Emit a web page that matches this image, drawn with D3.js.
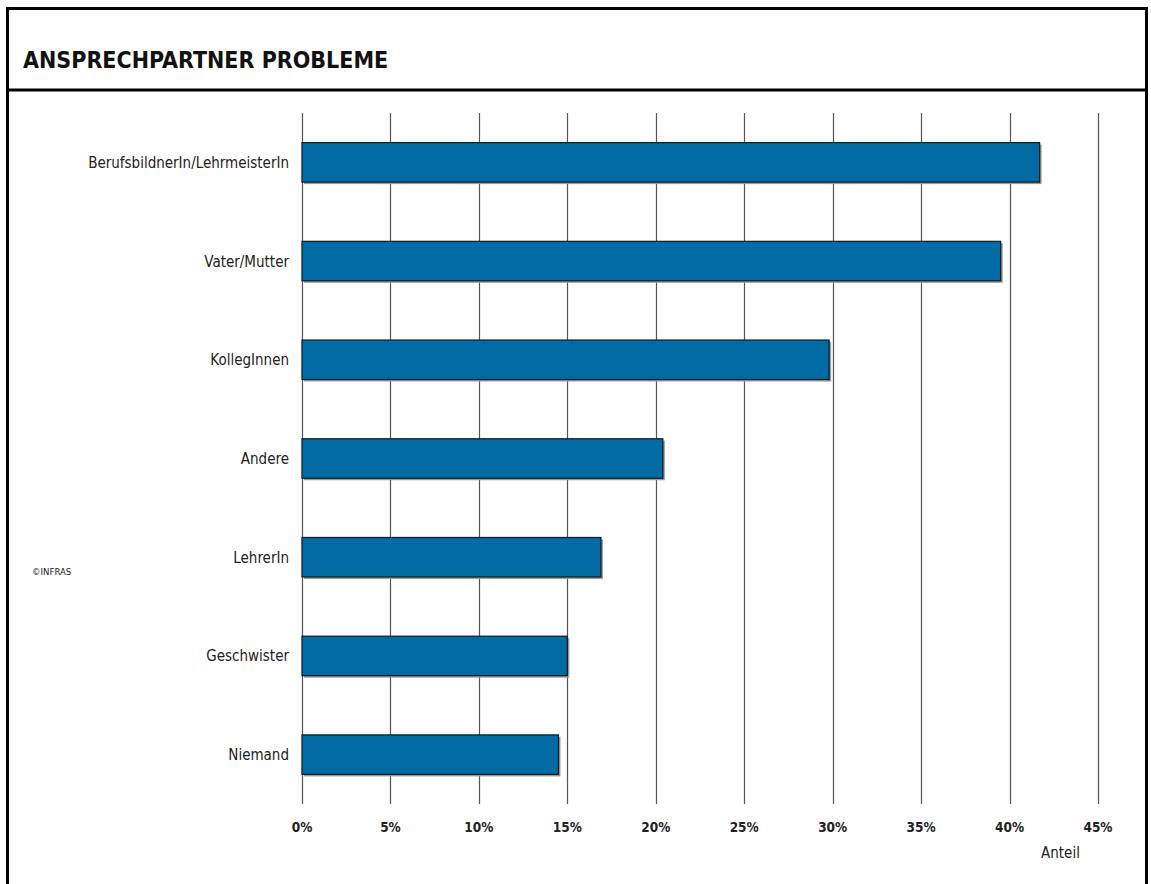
<!DOCTYPE html>
<html>
<head>
<meta charset="utf-8">
<script src="https://cdn.jsdelivr.net/npm/d3@7"></script>
<style>
  body { margin: 0; background: #fff; }
  svg text { font-family: "DejaVu Sans Condensed", "DejaVu Sans", sans-serif; fill: #222; }
</style>
</head>
<body>
<div class="chart"></div>
<script>
const categories = ['BerufsbildnerIn/LehrmeisterIn', 'Vater/Mutter', 'KollegInnen', 'Andere', 'LehrerIn', 'Geschwister', 'Niemand'];
const values = [41.7, 39.5, 29.8, 20.4, 16.9, 15.0, 14.5];
const ticks = [0, 5, 10, 15, 20, 25, 30, 35, 40, 45];

function displayChart() {
  const w = 1151;
  const h = 884;
  const margin = { top: 113, right: 53, bottom: 80, left: 302 };

  const svg = d3.select('.chart')
    .append('svg')
    .attr('width', w)
    .attr('height', h);

  // frame + header
  svg.append('rect')
    .attr('x', 7.5).attr('y', 8.5)
    .attr('width', 1139).attr('height', 900)
    .attr('fill', 'none').attr('stroke', '#000').attr('stroke-width', 3);
  svg.append('line')
    .attr('x1', 7).attr('x2', 1147)
    .attr('y1', 90).attr('y2', 90)
    .attr('stroke', '#000').attr('stroke-width', 3);
  svg.append('text')
    .attr('x', 23).attr('y', 68)
    .attr('font-size', 23).attr('font-weight', 'bold')
    .style('fill', '#111')
    .text('ANSPRECHPARTNER PROBLEME');

  const xScale = d3.scaleLinear()
    .domain([0, 45])
    .range([margin.left, 1098]);
  const yScale = d3.scaleBand()
    .domain(categories)
    .range([margin.top, 804])
    .paddingInner(0.6)
    .paddingOuter(0.3);

  // gridlines
  svg.append('g')
    .selectAll('line')
    .data(ticks)
    .enter()
    .append('line')
    .attr('x1', d => Math.round(xScale(d)) + 0.5)
    .attr('x2', d => Math.round(xScale(d)) + 0.5)
    .attr('y1', margin.top)
    .attr('y2', 804)
    .attr('stroke', '#555')
    .attr('stroke-width', 1.2);

  // tick labels
  svg.append('g')
    .selectAll('text')
    .data(ticks)
    .enter()
    .append('text')
    .attr('x', d => xScale(d))
    .attr('y', 832)
    .attr('text-anchor', 'middle')
    .attr('font-size', 13.5)
    .attr('font-weight', 'bold')
    .text(d => `${d}%`);

  svg.append('text')
    .attr('x', 1041).attr('y', 858)
    .attr('font-size', 15)
    .text('Anteil');

  // category labels
  svg.append('g')
    .selectAll('text')
    .data(categories)
    .enter()
    .append('text')
    .attr('x', 289)
    .attr('y', d => yScale(d) + yScale.bandwidth() / 2 + 5.5)
    .attr('text-anchor', 'end')
    .attr('font-size', 15)
    .text(d => d);

  // shadows
  svg.append('g')
    .selectAll('rect')
    .data(values)
    .enter()
    .append('rect')
    .attr('x', xScale(0) + 2)
    .attr('y', (d, i) => yScale(categories[i]) + 2)
    .attr('width', d => xScale(d) - xScale(0))
    .attr('height', yScale.bandwidth())
    .attr('fill', '#999');

  // bars
  svg.append('g')
    .selectAll('rect')
    .data(values)
    .enter()
    .append('rect')
    .attr('class', 'bar')
    .attr('x', xScale(0))
    .attr('y', (d, i) => yScale(categories[i]))
    .attr('width', d => xScale(d) - xScale(0))
    .attr('height', yScale.bandwidth())
    .attr('fill', '#036ba3')
    .attr('stroke', '#0a1a2a')
    .attr('stroke-width', 1.2);

  svg.append('text')
    .attr('x', 32).attr('y', 575)
    .attr('font-size', 9.5)
    .text('©INFRAS');
}

displayChart();
</script>
</body>
</html>
